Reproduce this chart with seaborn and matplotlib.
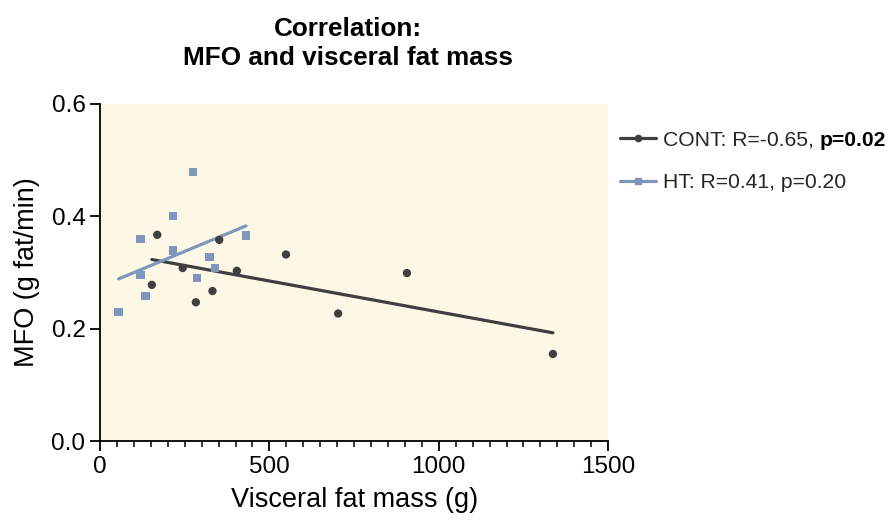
import matplotlib
matplotlib.use("Agg")
import matplotlib.pyplot as plt
from matplotlib.lines import Line2D
from matplotlib.ticker import MultipleLocator
import numpy as np
import pandas as pd
import seaborn as sns

# values
cont_fat = [153, 169, 244, 283, 332, 352, 404, 549, 703, 906, 1337]
cont_mfo = [0.278, 0.367, 0.308, 0.247, 0.267, 0.358, 0.303, 0.332, 0.227, 0.299, 0.155]
ht_fat = [55, 120, 120, 134, 215, 216, 275, 287, 323, 340, 431]
ht_mfo = [0.230, 0.360, 0.295, 0.258, 0.401, 0.339, 0.479, 0.290, 0.328, 0.308, 0.366]
groups = ["CONT", "HT"]
r_values = ["-0.65", "0.41"]
p_values = ["0.02", "0.20"]

df = pd.DataFrame({
    "fat": cont_fat + ht_fat,
    "mfo": cont_mfo + ht_mfo,
    "group": ["CONT"] * len(cont_fat) + ["HT"] * len(ht_fat),
})

colors = {"CONT": "#3f3f3f", "HT": "#7f96bd"}
markers = {"CONT": "o", "HT": "s"}

sns.set_theme(style="ticks")
plt.rcParams["font.family"] = ["Liberation Sans", "DejaVu Sans"]

fig = plt.figure(figsize=(8.93, 5.22), dpi=100)
ax = fig.add_axes([0.112, 0.155, 0.569, 0.646])
ax.set_facecolor("#fdf8e6")

for g in groups:
    sub = df[df["group"] == g]
    sns.regplot(data=sub, x="fat", y="mfo", ax=ax, scatter=False, ci=None,
                truncate=True, color=colors[g], line_kws={"lw": 2.3})
    sns.scatterplot(data=sub, x="fat", y="mfo", ax=ax, color=colors[g],
                    marker=markers[g], s=36, edgecolor="none", zorder=3)

ax.set_xlim(0, 1500)
ax.set_ylim(0, 0.6)
ax.set_xticks([0, 500, 1000, 1500])
ax.set_yticks([0.0, 0.2, 0.4, 0.6])
ax.set_yticklabels(["0.0", "0.2", "0.4", "0.6"])
ax.xaxis.set_minor_locator(MultipleLocator(50))
ax.tick_params(axis="both", which="major", length=7, width=1.3, labelsize=17.5,
               color="black", labelcolor="black", direction="out")
ax.tick_params(axis="x", which="minor", length=4, width=1.1, color="black")
for side in ["top", "right"]:
    ax.spines[side].set_visible(False)
for side in ["left", "bottom"]:
    ax.spines[side].set_color("black")
    ax.spines[side].set_linewidth(1.3)

ax.set_xlabel("Visceral fat mass (g)", fontsize=19.5, color="black", labelpad=7)
ax.set_ylabel("MFO (g fat/min)", fontsize=19.5, color="black", labelpad=8)
ax.set_title("Correlation:\nMFO and visceral fat mass", fontsize=18.8, fontweight="bold",
             color="black", pad=28, x=0.488, linespacing=1.25)

labels = [
    f"CONT: R={r_values[0]}, ",
    f"HT: R={r_values[1]}, p={p_values[1]}",
]
handles = [Line2D([], [], color=colors[g], marker=markers[g], markersize=4.5, lw=2.3)
           for g in groups]
leg = ax.legend(handles, labels, loc="upper left", bbox_to_anchor=(1.024, 0.92),
                frameon=False, fontsize=15.2, handlelength=1.7, handletextpad=0.3,
                labelspacing=1.1, borderpad=0, borderaxespad=0)

# bold p-value appended right after the first legend entry
fig.canvas.draw()
bb = leg.get_texts()[0].get_window_extent()
x0, y0 = fig.transFigure.inverted().transform((bb.x1, bb.y0))
fig.text(x0, y0, f"p={p_values[0]}", ha="left", va="bottom", fontsize=15.2,
         fontweight="bold", color="black")

fig.savefig("out.png", dpi=100)
